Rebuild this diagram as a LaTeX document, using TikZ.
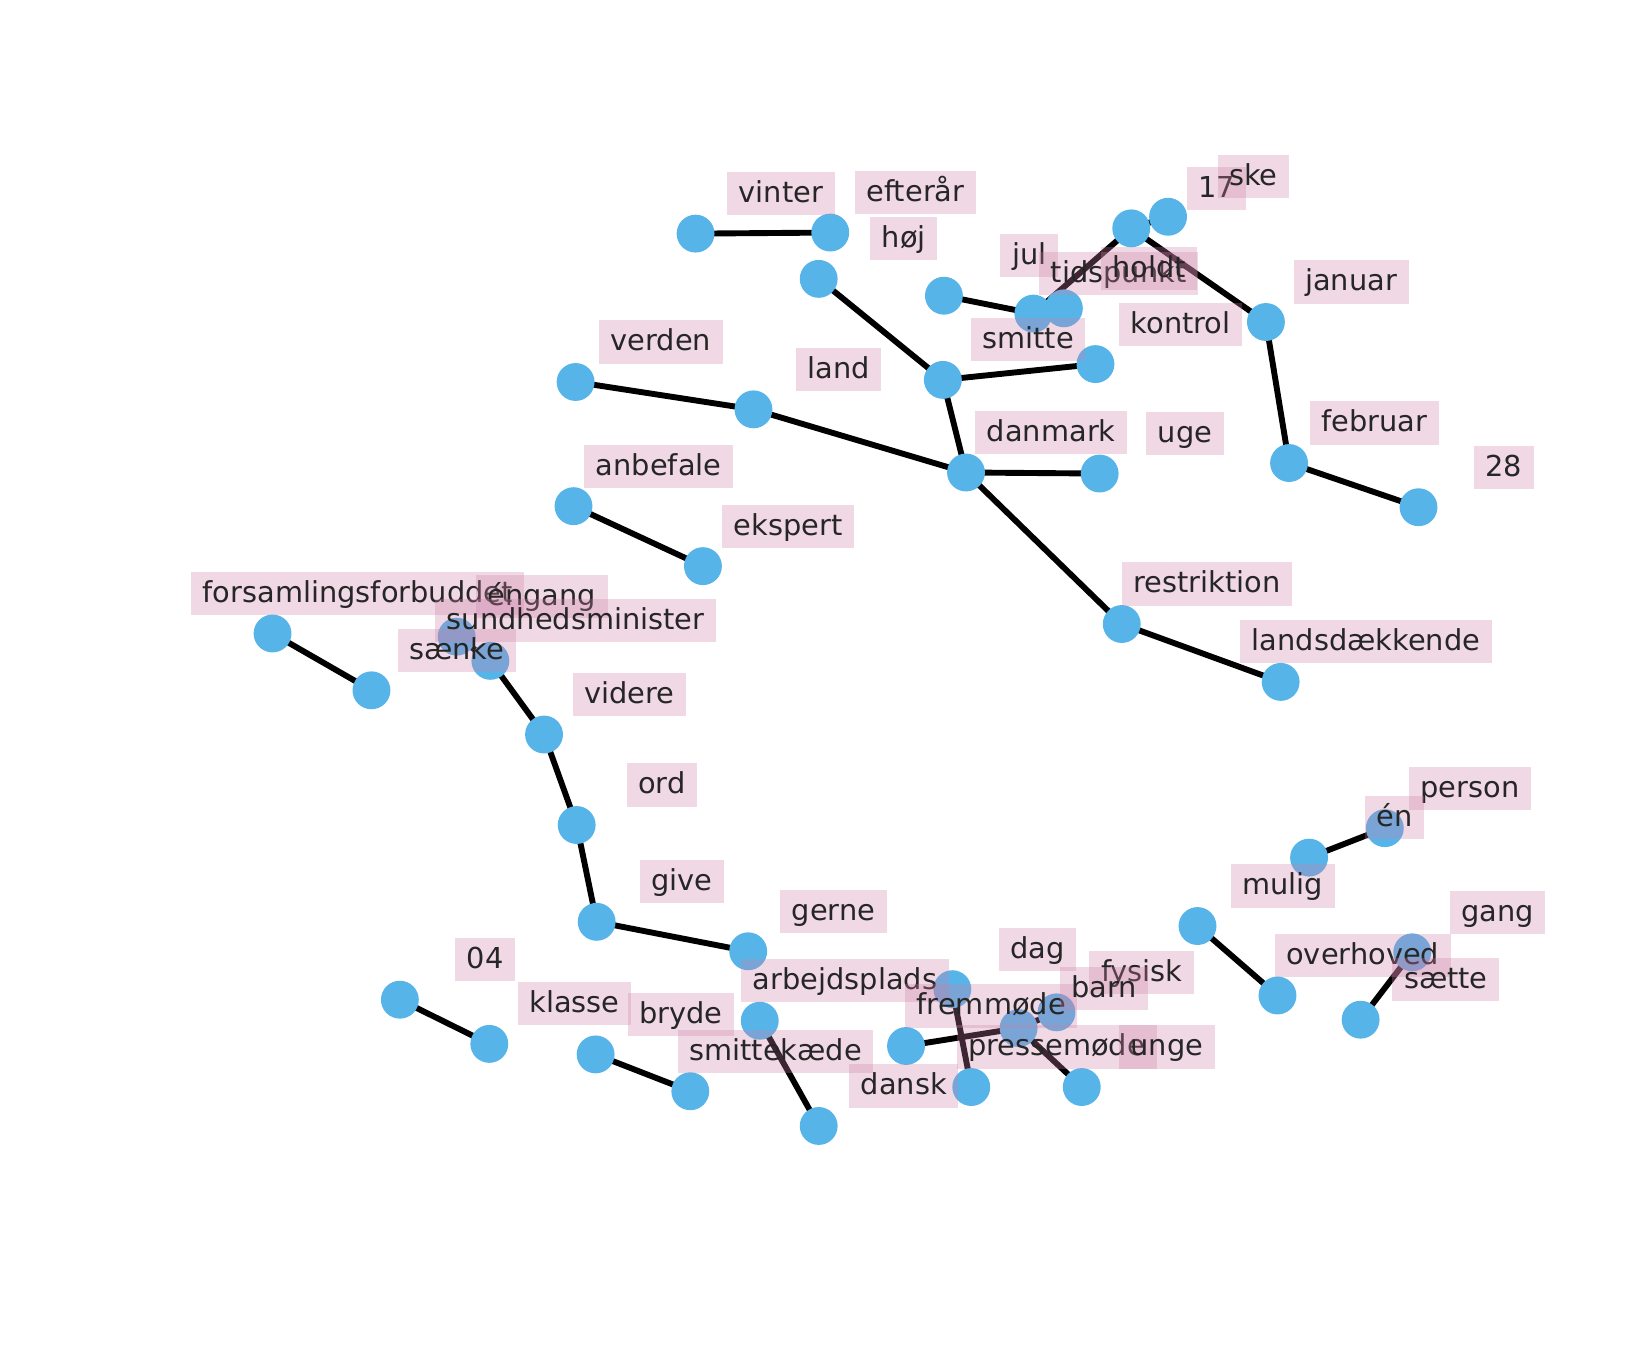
\documentclass[tikz,border=0pt]{standalone}
\usepackage{fontspec}
\setmainfont{DejaVu Sans}
\definecolor{nodeblue}{RGB}{86,180,233}
\definecolor{boxpink}{RGB}{205,129,168}
\definecolor{inkgray}{RGB}{38,38,38}
\begin{document}
\begin{tikzpicture}[x=1pt,y=-1pt,
  vtx/.style={circle,fill=nodeblue,minimum size=36pt,inner sep=0pt},
  link/.style={line width=5.6pt,black},
  lbl/.style={fill=boxpink,fill opacity=0.3,text opacity=1,text=inkgray,
    font=\fontsize{27.4pt}{32pt}\selectfont,inner xsep=11pt,inner ysep=0pt,
    minimum height=41pt,text height=21.5pt,text depth=4.5pt}]
\useasboundingbox (0,0) rectangle (1568,1283);
% word positions
\def\words{vinter/661/222/vinter, eftera/789/221/efterår, hoj/778/265/høj,
  jul/897/281/jul, tidspunkt/982/298/tidspunkt, holdt/1011/293/holdt,
  n17/1075/217/17, ske/1110/206/ske, januar/1203/306/januar,
  kontrol/1041/346/kontrol, smitte/896/361/smitte, land/716/389/land,
  verden/547/363/verden, danmark/918/449/danmark, uge/1045/450/uge,
  februar/1225/440/februar, n28/1348/482/28, anbefale/545/481/anbefale,
  ekspert/668/538/ekspert, restriktion/1066/593/restriktion,
  landsd/1217/648/landsdækkende, forsaml/259/602/forsamlingsforbuddet,
  engang/434/605/éngang, sundhed/466/628/sundhedsminister,
  saenke/353/656/sænke, videre/517/698/videre, ord/548/784/ord,
  give/567/876/give, gerne/711/904/gerne, n04/380/950/04,
  klasse/465/992/klasse, bryde/566/1002/bryde, arbejd/722/970/arbejdsplads,
  smittek/656/1037/smittekæde, dag/905/940/dag, fremmode/861/994/fremmøde,
  fysisk/1004/962/fysisk, barn/968/977/barn, presse/923/1033/pressemøde,
  unge/1028/1033/unge, dansk/778/1070/dansk, person/1316/787/person,
  en/1244/815/én, mulig/1138/880/mulig, gang/1342/905/gang,
  overhoved/1214/946/overhoved, saette/1293/969/sætte}
\foreach \n/\x/\y/\t in \words { \coordinate (\n) at (\x,\y); }
% links
\foreach \a/\b in {vinter/eftera, hoj/smitte, jul/tidspunkt, tidspunkt/n17,
  holdt/tidspunkt, n17/ske, n17/januar, januar/februar, februar/n28,
  smitte/kontrol, smitte/danmark, verden/land, land/danmark, danmark/uge,
  danmark/restriktion, restriktion/landsd, anbefale/ekspert, forsaml/saenke,
  engang/sundhed, sundhed/videre, videre/ord, ord/give, give/gerne,
  n04/klasse, bryde/smittek, arbejd/dansk, dag/presse, fremmode/barn,
  barn/unge, fysisk/barn, en/person, mulig/overhoved, gang/saette}
  { \draw[link] (\a) -- (\b); }
% vertices
\foreach \n/\x/\y/\t in \words { \node[vtx] (v\n) at (\n) {}; }
% word labels
\foreach \n/\x/\y/\t in \words { \node[lbl] (l\n) at ([shift={(81,-38)}]\n) {\t}; }
\end{tikzpicture}
\end{document}
